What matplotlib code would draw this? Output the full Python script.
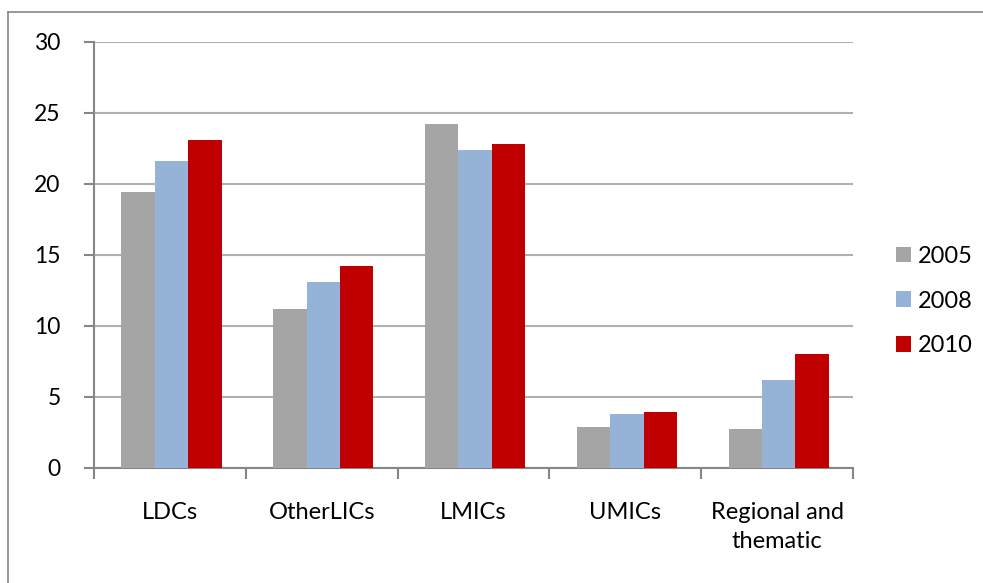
import numpy as np
import matplotlib
matplotlib.use('Agg')
import matplotlib.pyplot as plt
from matplotlib.patches import Patch
from matplotlib.lines import Line2D

categories = ['LDCs', 'OtherLICs', 'LMICs', 'UMICs', 'Regional and\nthematic']
years = ['2005', '2008', '2010']
values_2005 = [19.4, 11.2, 24.2, 2.9, 2.7]
values_2008 = [21.6, 13.1, 22.4, 3.8, 6.2]
values_2010 = [23.1, 14.2, 22.8, 3.9, 8.0]
colors = ['#a5a5a5', '#95b3d7', '#c00000']

plt.rcParams['font.family'] = ['Lato', 'DejaVu Sans']

fig = plt.figure(figsize=(9.83, 5.83), dpi=100)
ax = fig.add_axes([94 / 983, 1 - 467.7 / 583, (853 - 94) / 983, (467.7 - 42) / 583])

x = np.arange(len(categories))
width = 0.22
series = [values_2005, values_2008, values_2010]
for i, (vals, c) in enumerate(zip(series, colors)):
    ax.bar(x + (i - 1) * width + 0.01, vals, width, color=c, zorder=3, label=years[i])

ax.set_xlim(-0.5, len(categories) - 0.5)
ax.set_ylim(0, 30)
ax.set_yticks(range(0, 31, 5))
ax.yaxis.grid(True, color='#b0b0b0', linewidth=1.5, zorder=0)
ax.set_axisbelow(True)

# x ticks at category boundaries, labels at centres
ax.set_xticks(np.arange(-0.5, len(categories), 1.0))
ax.set_xticklabels([])
ax.set_xticks(x, minor=True)
ax.set_xticklabels(categories, minor=True, fontsize=17, linespacing=1.45)
ax.tick_params(axis='x', which='minor', length=0, pad=25)
ax.tick_params(axis='x', which='major', length=8, width=1.5, color='#868686')
ax.tick_params(axis='y', length=7, width=1.5, color='#868686', labelsize=16.5, pad=17)

for s in ['top', 'right']:
    ax.spines[s].set_visible(False)
for s in ['left', 'bottom']:
    ax.spines[s].set_color('#868686')
    ax.spines[s].set_linewidth(1.5)

handles = [Patch(facecolor=c, label=y) for c, y in zip(colors, years)]
fig.legend(handles=handles, loc='center left', bbox_to_anchor=(896 / 983, 1 - 301 / 583),
           frameon=False, fontsize=17, handlelength=0.64, handleheight=0.64,
           handletextpad=0.3, labelspacing=1.0, borderaxespad=0, borderpad=0)

# outer chart border (left and top edges visible)
fig.add_artist(Line2D([8 / 983, 8 / 983], [0, 1 - 12 / 583], transform=fig.transFigure,
                      color='#868686', linewidth=1.2))
fig.add_artist(Line2D([8 / 983, 1], [1 - 12 / 583, 1 - 12 / 583], transform=fig.transFigure,
                      color='#868686', linewidth=1.2))

fig.savefig('out.png', dpi=100)
